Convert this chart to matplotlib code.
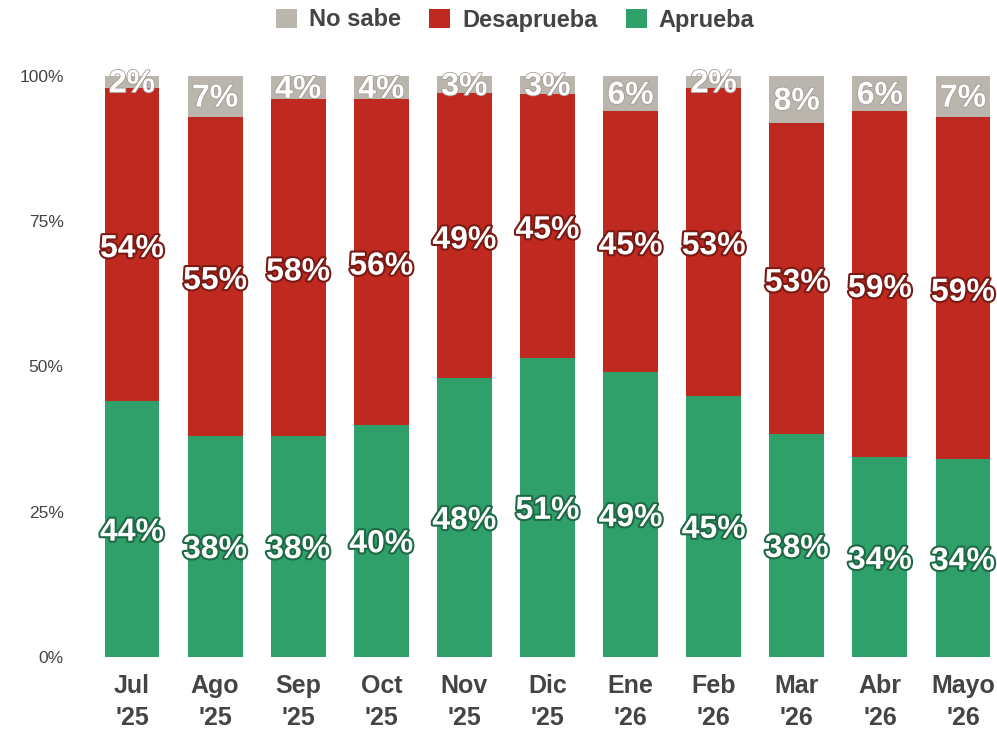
import numpy as np
from matplotlib import pyplot as plt
import matplotlib.patheffects as pe

meses = ["Jul\n'25", "Ago\n'25", "Sep\n'25", "Oct\n'25", "Nov\n'25", "Dic\n'25",
         "Ene\n'26", "Feb\n'26", "Mar\n'26", "Abr\n'26", "Mayo\n'26"]
aprueba = np.array([44, 38, 38, 40, 48, 51, 49, 45, 38, 34, 34])
desaprueba = np.array([54, 55, 58, 56, 49, 45, 45, 53, 53, 59, 59])
no_sabe = np.array([2, 7, 4, 4, 3, 3, 6, 2, 8, 6, 7])

verde = '#2fa06a'
rojo = '#c0291f'
gris = '#bab6ae'
texto = '#444444'

# las barras llenan el 100% aunque la suma redondeada sea 99
total = aprueba + desaprueba + no_sabe
ap = aprueba / total * 100
de = desaprueba / total * 100
ns = no_sabe / total * 100

plt.rcParams['font.family'] = ['Liberation Sans', 'DejaVu Sans']

fig = plt.figure(figsize=(9.97, 7.31), dpi=100)
ax = fig.add_axes([72 / 997, 1 - 657 / 731, (990 - 72) / 997, (657 - 76) / 731])

x = np.arange(len(meses))
w = 0.66
b1 = ax.bar(x, ap, w, color=verde, label='Aprueba')
b2 = ax.bar(x, de, w, bottom=ap, color=rojo, label='Desaprueba')
b3 = ax.bar(x, ns, w, bottom=ap + de, color=gris, label='No sabe')


def etiquetas(valores, base, alto, borde, lw, dy=0):
    for i, v in enumerate(valores):
        ax.text(x[i], base[i] + alto[i] / 2 + dy, f'{v}%', ha='center', va='center',
                fontsize=23, color='white', fontweight='bold',
                path_effects=[pe.withStroke(linewidth=lw, foreground=borde)])


etiquetas(aprueba, np.zeros(len(x)), ap, '#1d6a45', 3, dy=-0.6)
etiquetas(desaprueba, ap, de, '#7a1a14', 3, dy=-0.8)
etiquetas(no_sabe, ap + de, ns, '#a29d95', 1.2, dy=-0.4)

ax.set_xlim((72 - 132) / 83.1, (990 - 132) / 83.1)
ax.set_ylim(0, 100)
ax.set_yticks([0, 25, 50, 75, 100])
ax.set_yticklabels(['0%', '25%', '50%', '75%', '100%'], fontsize=12.5, color=texto)
ax.set_xticks(x)
ax.set_xticklabels(meses, fontsize=18, fontweight='bold', color=texto, linespacing=1.45)
ax.tick_params(length=0)
ax.tick_params(axis='x', pad=12)
ax.tick_params(axis='y', pad=6)
for s in ax.spines.values():
    s.set_visible(False)

fig.legend(handles=[b3, b2, b1], labels=['No sabe', 'Desaprueba', 'Aprueba'],
           loc='center', bbox_to_anchor=(515 / 997, 1 - 20 / 731), ncol=3,
           frameon=False, handlelength=0.9, handleheight=0.9, handletextpad=0.5,
           columnspacing=1.2, prop={'size': 17, 'weight': 'bold'},
           labelcolor=texto)

fig.savefig('out.png', dpi=100)
